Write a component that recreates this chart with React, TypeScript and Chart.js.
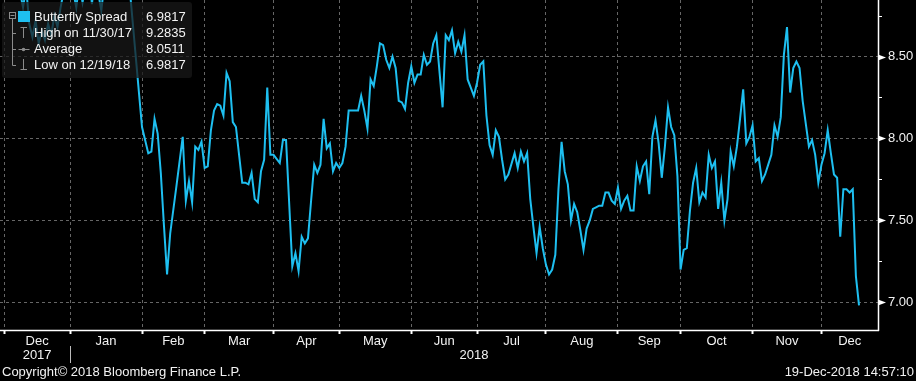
import React, { useEffect, useRef } from "react";
import { Chart, registerables } from "chart.js";

Chart.register(...registerables);

// ---- data -------------------------------------------------------------
// trading day number (weekdays counted from 30-Nov-2017 = 0)
const tradingDay = [
  0, 1, 2, 3, 4, 5, 6, 7, 8, 9,
  10, 11, 12, 13, 14, 15, 16, 17, 18, 19,
  20, 21, 22, 24, 25, 26, 28, 29, 30, 32,
  33, 35, 37, 39, 41, 45, 47, 48, 49, 50,
  51, 52, 53, 54, 56, 58, 59, 60, 61, 62,
  63, 64, 65, 66, 67, 68, 69, 70, 71, 72,
  73, 74, 75, 77, 78, 79, 80, 81, 82, 83,
  84, 85, 86, 87, 89, 90, 91, 93, 94, 95,
  96, 97, 98, 99, 100, 101, 102, 103, 104, 105,
  106, 107, 108, 109, 110, 111, 114, 115, 116, 117,
  118, 119, 120, 121, 122, 123, 124, 125, 126, 127,
  128, 129, 130, 131, 132, 133, 134, 135, 136, 137,
  138, 139, 141, 142, 143, 144, 145, 146, 147, 148,
  149, 150, 151, 152, 153, 154, 155, 156, 157, 158,
  159, 160, 161, 162, 164, 165, 166, 167, 168, 169,
  170, 171, 172, 173, 174, 175, 176, 177, 178, 179,
  180, 181, 182, 183, 184, 185, 186, 187, 188, 189,
  190, 191, 192, 193, 194, 195, 196, 197, 198, 199,
  200, 201, 202, 203, 204, 205, 206, 207, 208, 209,
  210, 211, 212, 213, 214, 215, 216, 217, 218, 219,
  220, 221, 222, 223, 224, 225, 226, 227, 228, 229,
  230, 231, 232, 233, 234, 235, 236, 237, 238, 239,
  240, 241, 242, 243, 244, 245, 246, 247, 248, 249,
  250, 251, 252, 253, 254, 255, 256, 258, 259, 260,
  261, 262, 263, 264, 265, 266, 267, 268, 269, 270,
  271, 272, 273, 274,
];

const spread = [
  9.2835, 9.10, 9.00, 9.12, 8.95, 9.05, 8.90, 8.80, 8.92, 8.70,
  8.62, 8.72, 8.58, 8.66, 8.60, 8.70, 8.63, 8.75, 8.68, 8.80,
  8.90, 8.95, 9.00, 8.80, 8.95, 8.83, 9.05, 8.82, 9.00, 8.78,
  8.95, 9.05, 8.95, 9.10, 8.93, 8.07, 7.91, 7.92, 8.12, 8.03,
  7.79, 7.47, 7.17, 7.42, 7.71, 8.01, 7.62, 7.74, 7.61, 7.95,
  7.93, 7.98, 7.82, 7.83, 8.05, 8.17, 8.21, 8.20, 8.14, 8.40,
  8.35, 8.10, 8.07, 7.73, 7.73, 7.72, 7.79, 7.63, 7.61, 7.80,
  7.87, 8.31, 7.90, 7.90, 7.85, 7.99, 7.99, 7.22, 7.30, 7.19,
  7.40, 7.36, 7.39, 7.62, 7.84, 7.79, 7.84, 8.12, 7.94, 7.97,
  7.80, 7.85, 7.82, 7.85, 7.95, 8.17, 8.17, 8.26, 8.17, 8.06,
  8.36, 8.32, 8.44, 8.58, 8.57, 8.48, 8.43, 8.50, 8.43, 8.23,
  8.22, 8.18, 8.34, 8.44, 8.34, 8.39, 8.39, 8.51, 8.45, 8.47,
  8.58, 8.63, 8.19, 8.63, 8.60, 8.66, 8.52, 8.59, 8.53, 8.63,
  8.36, 8.31, 8.26, 8.34, 8.45, 8.47, 8.14, 7.96, 7.90, 8.05,
  8.01, 7.87, 7.75, 7.78, 7.91, 7.82, 7.92, 7.86, 7.91, 7.63,
  7.46, 7.30, 7.46, 7.33, 7.23, 7.17, 7.20, 7.29, 7.69, 7.98,
  7.80, 7.72, 7.50, 7.60, 7.55, 7.44, 7.32, 7.45, 7.50, 7.57,
  7.58, 7.59, 7.59, 7.67, 7.67, 7.62, 7.60, 7.70, 7.57, 7.62,
  7.65, 7.56, 7.56, 7.83, 7.74, 7.83, 7.86, 7.66, 8.01, 8.11,
  7.97, 7.76, 7.95, 8.19, 8.07, 8.02, 7.77, 7.20, 7.32, 7.33,
  7.56, 7.73, 7.82, 7.61, 7.67, 7.64, 7.90, 7.82, 7.86, 7.57,
  7.73, 7.50, 7.63, 7.92, 7.83, 7.95, 8.12, 8.30, 7.97, 8.01,
  8.08, 7.86, 7.88, 7.74, 7.78, 7.84, 7.90, 8.08, 8.01, 8.13,
  8.51, 8.68, 8.28, 8.43, 8.47, 8.43, 8.23, 7.95, 7.99, 7.90,
  7.73, 7.84, 7.91, 8.05, 7.91, 7.78, 7.76, 7.40, 7.69, 7.69,
  7.67, 7.69, 7.16, 6.9817,
];

const yTickValues = [7.0, 7.25, 7.5, 7.75, 8.0, 8.25, 8.5, 8.75];
const monthNames = ["Jan", "Feb", "Mar", "Apr", "May", "Jun", "Jul", "Aug", "Sep", "Oct", "Nov", "Dec"];
const legendNames = ["Butterfly Spread", "High on 11/30/17", "Average", "Low on 12/19/18"];
const legendValues = ["6.9817", "9.2835", "8.0511", "6.9817"];
const footerLeft = "Copyright\u00A9 2018 Bloomberg Finance L.P.";
const footerRight = "19-Dec-2018 14:57:10";

// weekday calendar from 30-Nov-2017 to 19-Dec-2018
const calendar: Date[] = [];
for (let d = new Date(2017, 10, 30); d <= new Date(2018, 11, 19); d.setDate(d.getDate() + 1)) {
  if (d.getDay() !== 0 && d.getDay() !== 6) calendar.push(new Date(d));
}
const monthStarts: number[] = [];
const monthLabels: string[] = [];
const monthYears: number[] = [];
calendar.forEach((d, i) => {
  if (i > 0 && d.getMonth() !== calendar[i - 1].getMonth()) {
    monthStarts.push(i);
    monthLabels.push(monthNames[d.getMonth()]);
    monthYears.push(d.getFullYear());
  }
});

// ---- style ------------------------------------------------------------
const LINE = "#1ebff0";
const GRID = "#666666";
const TEXT = "#f2f2f2";
const FONT = "'Liberation Sans', Arial, sans-serif";
const X_MIN = -0.357;
const X_MAX = 280.06;
const Y_MIN = 6.831;
const Y_MAX = 8.845;

const isMajor = (v: number) => Math.abs(v * 2 - Math.round(v * 2)) < 1e-6;

const decor = {
  id: "decor",
  afterDraw(chart: any) {
    const { ctx, chartArea: a, scales } = chart;
    const x = scales.x;
    const y = scales.y;
    ctx.save();

    // axis lines
    ctx.strokeStyle = "#ffffff";
    ctx.lineWidth = 1.5;
    ctx.beginPath();
    ctx.moveTo(a.left, a.bottom + 0.5);
    ctx.lineTo(a.right + 1, a.bottom + 0.5);
    ctx.moveTo(a.right + 0.5, a.top);
    ctx.lineTo(a.right + 0.5, a.bottom + 1);
    ctx.stroke();

    // y tick marks
    ctx.fillStyle = "#ffffff";
    ctx.lineWidth = 1;
    for (const v of yTickValues) {
      const py = Math.round(y.getPixelForValue(v)) + 0.5;
      if (isMajor(v)) {
        ctx.beginPath();
        ctx.moveTo(a.right, py - 3);
        ctx.lineTo(a.right + 8, py);
        ctx.lineTo(a.right, py + 3);
        ctx.closePath();
        ctx.fill();
      } else {
        ctx.beginPath();
        ctx.moveTo(a.right, py);
        ctx.lineTo(a.right + 4, py);
        ctx.stroke();
      }
    }

    // month labels
    ctx.fillStyle = TEXT;
    ctx.font = `13px ${FONT}`;
    ctx.textAlign = "center";
    ctx.textBaseline = "middle";
    monthStarts.forEach((m, i) => {
      const p0 = x.getPixelForValue(m);
      const p1 = i + 1 < monthStarts.length ? x.getPixelForValue(monthStarts[i + 1]) : a.right;
      ctx.fillText(monthLabels[i], (p0 + p1) / 2, a.bottom + 11);
    });
    // year labels
    const years = Array.from(new Set(monthYears));
    years.forEach((yr) => {
      const idx = monthYears.indexOf(yr);
      const last = monthYears.lastIndexOf(yr);
      const p0 = x.getPixelForValue(monthStarts[idx]);
      const p1 = last + 1 < monthStarts.length ? x.getPixelForValue(monthStarts[last + 1]) : a.right;
      ctx.fillText(String(yr), (p0 + p1) / 2, a.bottom + 25);
      if (idx > 0) {
        ctx.strokeStyle = "#bbbbbb";
        ctx.beginPath();
        ctx.moveTo(Math.round(p0) + 0.5, a.bottom + 16);
        ctx.lineTo(Math.round(p0) + 0.5, a.bottom + 33);
        ctx.stroke();
      }
    });

    // footer
    ctx.textAlign = "left";
    ctx.fillText(footerLeft, 2, 372);
    ctx.textAlign = "right";
    ctx.fillText(footerRight, 914, 372);

    // legend box
    ctx.fillStyle = "rgba(24,24,24,0.74)";
    ctx.beginPath();
    ctx.roundRect(2, 2, 190, 76, 3);
    ctx.fill();

    ctx.strokeStyle = "#8c8c8c";
    ctx.lineWidth = 1;
    ctx.strokeRect(9.5, 12.5, 6, 6);
    ctx.beginPath();
    ctx.moveTo(10.5, 15.5);
    ctx.lineTo(14.5, 15.5);
    ctx.moveTo(12.5, 18.5);
    ctx.lineTo(12.5, 65.5);
    for (const ly of [33.5, 49.5, 65.5]) {
      ctx.moveTo(12.5, ly);
      ctx.lineTo(16, ly);
    }
    // high icon
    ctx.moveTo(20.5, 27.5);
    ctx.lineTo(27, 27.5);
    ctx.moveTo(23.5, 27.5);
    ctx.lineTo(23.5, 38);
    // average icon
    ctx.moveTo(18.5, 49.5);
    ctx.lineTo(29.5, 49.5);
    // low icon
    ctx.moveTo(23.5, 59);
    ctx.lineTo(23.5, 69.5);
    ctx.moveTo(20.5, 69.5);
    ctx.lineTo(27, 69.5);
    ctx.stroke();
    ctx.beginPath();
    ctx.arc(23.5, 49.5, 1.8, 0, Math.PI * 2);
    ctx.fillStyle = "#8c8c8c";
    ctx.fill();

    ctx.fillStyle = LINE;
    ctx.fillRect(18, 11, 12, 11);

    ctx.fillStyle = TEXT;
    ctx.font = `13px ${FONT}`;
    ctx.textAlign = "left";
    ctx.textBaseline = "middle";
    const rowY = [17, 33.5, 49.5, 65.5];
    legendNames.forEach((n, i) => {
      ctx.fillText(n, 34, rowY[i]);
      ctx.fillText(legendValues[i], 146, rowY[i]);
    });

    ctx.restore();
  },
};

export default function App() {
  const ref = useRef<HTMLCanvasElement>(null);

  useEffect(() => {
    document.body.style.margin = "0";
    document.body.style.background = "#000";
    const chart = new Chart(ref.current as HTMLCanvasElement, {
      type: "line",
      data: {
        datasets: [
          {
            label: legendNames[0],
            data: tradingDay.map((d, i) => ({ x: d, y: spread[i] })),
            borderColor: LINE,
            backgroundColor: LINE,
            borderWidth: 2,
            pointRadius: 0,
            tension: 0,
            fill: false,
          },
        ],
      },
      options: {
        responsive: false,
        animation: false,
        devicePixelRatio: 1,
        layout: { padding: 0 },
        plugins: { legend: { display: false }, tooltip: { enabled: false } },
        scales: {
          x: {
            type: "linear",
            position: "bottom",
            min: X_MIN,
            max: X_MAX,
            afterBuildTicks: (s: any) => {
              s.ticks = monthStarts.map((v) => ({ value: v }));
            },
            ticks: { display: false },
            grid: {
              color: GRID,
              lineWidth: 1,
              drawTicks: true,
              tickLength: 4,
              tickColor: "#ffffff",
              tickWidth: 2,
            },
            border: { display: false, dash: [3, 3] },
            afterFit: (s: any) => {
              s.height = 51;
              s.paddingLeft = 0;
              s.paddingRight = 0;
            },
          },
          y: {
            type: "linear",
            position: "right",
            min: Y_MIN,
            max: Y_MAX,
            afterBuildTicks: (s: any) => {
              s.ticks = yTickValues.map((v) => ({ value: v }));
            },
            ticks: {
              color: TEXT,
              padding: 10,
              autoSkip: false,
              font: { family: FONT, size: 13 },
              callback: (v: any) => (isMajor(Number(v)) ? Number(v).toFixed(2) : ""),
            },
            grid: {
              color: (c: any) => (c.tick && isMajor(c.tick.value) ? GRID : "rgba(0,0,0,0)"),
              lineWidth: 1,
              drawTicks: false,
            },
            border: { display: false, dash: [3, 3] },
            afterFit: (s: any) => {
              s.width = 38;
              s.paddingTop = 0;
              s.paddingBottom = 0;
            },
          },
        },
      },
      plugins: [decor],
    } as any);
    return () => chart.destroy();
  }, []);

  return (
    <div style={{ width: 916, height: 381, background: "#000", position: "relative" }}>
      <canvas ref={ref} width={916} height={381} style={{ display: "block" }} />
    </div>
  );
}
